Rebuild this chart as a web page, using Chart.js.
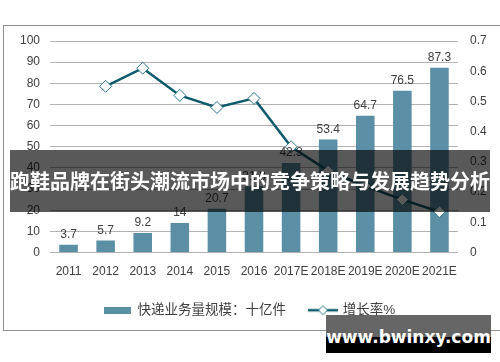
<!DOCTYPE html>
<html>
<head>
<meta charset="utf-8">
<script src="https://cdn.jsdelivr.net/npm/chart.js@4"></script>
<style>
  html, body { margin: 0; padding: 0; background: #fff; overflow: hidden; }
  #wrap { position: relative; width: 500px; height: 362px; }
  #frame { position: absolute; left: 3px; top: 25px; width: 600px; height: 306px; border: 1px solid #8f8f8f; box-sizing: border-box; }
  canvas { position: absolute; left: 0; top: 0; }
  #banner { position: absolute; left: 10px; top: 150px; width: 480px; height: 62px; background: rgba(0,0,0,0.65);
    color: #fff; font: bold 20px "Noto Sans CJK SC", sans-serif; line-height: 62px; text-align: center; white-space: nowrap; }
  #mark { position: absolute; left: 326px; top: 315px; width: 165px; height: 38px;
    background: linear-gradient(#666 0, #666 58%, #000 58%, #000 100%);
    color: #fff; font: bold 17px "DejaVu Sans", sans-serif; line-height: 44px; text-align: center; }
</style>
</head>
<body>
<div id="wrap">
  <div id="frame"></div>
  <canvas id="c" width="500" height="362"></canvas>
  <div id="banner">跑鞋品牌在街头潮流市场中的竞争策略与发展趋势分析</div>
  <div id="mark">www.bwinxy.com</div>
</div>
<script>
const years = ["2011", "2012", "2013", "2014", "2015", "2016", "2017E", "2018E", "2019E", "2020E", "2021E"];
const volume = [3.7, 5.7, 9.2, 14, 20.7, 31.3, 42.3, 53.4, 64.7, 76.5, 87.3];
const growth = [null, 0.55, 0.61, 0.52, 0.48, 0.51, 0.35, 0.27, 0.22, 0.175, 0.135];
const leftTicks = [0, 10, 20, 30, 40, 50, 60, 70, 80, 90, 100];
const rightTicks = [0, 0.1, 0.2, 0.3, 0.4, 0.5, 0.6, 0.7];

const barColor = "#5b8fa6";
const lineColor = "#0f5a6c";
const textColor = "#404040";
const font = "'Liberation Sans', Arial, 'Noto Sans CJK SC', sans-serif";

// legend swatches
function barSwatch() {
  const c = document.createElement("canvas");
  c.width = 27; c.height = 7;
  const g = c.getContext("2d");
  g.fillStyle = barColor;
  g.fillRect(0, 0, 27, 7);
  return c;
}
function lineSwatch() {
  const c = document.createElement("canvas");
  c.width = 30; c.height = 12;
  const g = c.getContext("2d");
  g.strokeStyle = lineColor;
  g.lineWidth = 2.5;
  g.beginPath(); g.moveTo(0, 6); g.lineTo(30, 6); g.stroke();
  g.fillStyle = "#fff";
  g.strokeStyle = "#2a7488";
  g.lineWidth = 1;
  g.beginPath(); g.moveTo(15, 1.5); g.lineTo(19.5, 6); g.lineTo(15, 10.5); g.lineTo(10.5, 6); g.closePath();
  g.fill(); g.stroke();
  return c;
}

const barLabels = {
  id: "barLabels",
  afterDatasetsDraw(chart) {
    const ctx = chart.ctx;
    const meta = chart.getDatasetMeta(1);
    ctx.save();
    ctx.font = "12px " + font;
    ctx.fillStyle = textColor;
    ctx.textAlign = "center";
    ctx.textBaseline = "bottom";
    meta.data.forEach((bar, i) => {
      ctx.fillText(String(volume[i]), bar.x, bar.y - 4);
    });
    ctx.restore();
  }
};

new Chart(document.getElementById("c"), {
  data: {
    labels: years,
    datasets: [
      {
        type: "line",
        label: "增长率%",
        data: growth,
        yAxisID: "y2",
        borderColor: lineColor,
        borderWidth: 2.5,
        pointStyle: "rectRot",
        pointRadius: 6,
        pointBackgroundColor: "#fff",
        pointBorderColor: "#2a7488",
        pointBorderWidth: 1,
        tension: 0,
        order: 0
      },
      {
        type: "bar",
        label: "快递业务量规模：十亿件",
        data: volume,
        yAxisID: "y",
        backgroundColor: barColor,
        barPercentage: 0.5,
        categoryPercentage: 1,
        order: 1
      }
    ]
  },
  options: {
    responsive: false,
    animation: false,
    layout: { padding: { top: 41, bottom: 35, left: 0, right: 0 } },
    plugins: {
      tooltip: { enabled: false },
      legend: {
        position: "bottom",
        labels: {
          usePointStyle: true,
          pointStyleWidth: 26,
          color: textColor,
          font: { size: 13.5, family: font },
          padding: 24,
          generateLabels(chart) {
            return [
              { text: "快递业务量规模：十亿件", pointStyle: barSwatch(), fontColor: textColor, datasetIndex: 1, lineWidth: 0 },
              { text: "增长率%", pointStyle: lineSwatch(), fontColor: textColor, datasetIndex: 0, lineWidth: 0 }
            ];
          }
        }
      }
    },
    scales: {
      x: {
        grid: { display: false, drawTicks: false },
        border: { display: false },
        afterFit(axis) { axis.height = 27; },
        ticks: { color: textColor, font: { size: 12, family: font }, maxRotation: 0, autoSkip: false, padding: 12 }
      },
      y: {
        position: "left",
        min: 0, max: 100,
        afterBuildTicks(axis) { axis.ticks = leftTicks.map(v => ({ value: v })); },
        afterFit(axis) { axis.width = 50; },
        grid: { color: "#b3b3b3", drawTicks: false },
        border: { display: false },
        ticks: { color: textColor, font: { size: 12, family: font }, padding: 10 }
      },
      y2: {
        position: "right",
        min: 0, max: 0.7,
        afterBuildTicks(axis) { axis.ticks = rightTicks.map(v => ({ value: v })); },
        afterFit(axis) { axis.width = 42; },
        grid: { display: false, drawTicks: false },
        border: { display: false },
        ticks: { color: textColor, font: { size: 12, family: font }, padding: 12, callback: v => String(Math.round(v * 10) / 10) }
      }
    }
  },
  plugins: [barLabels]
});
</script>
</body>
</html>
